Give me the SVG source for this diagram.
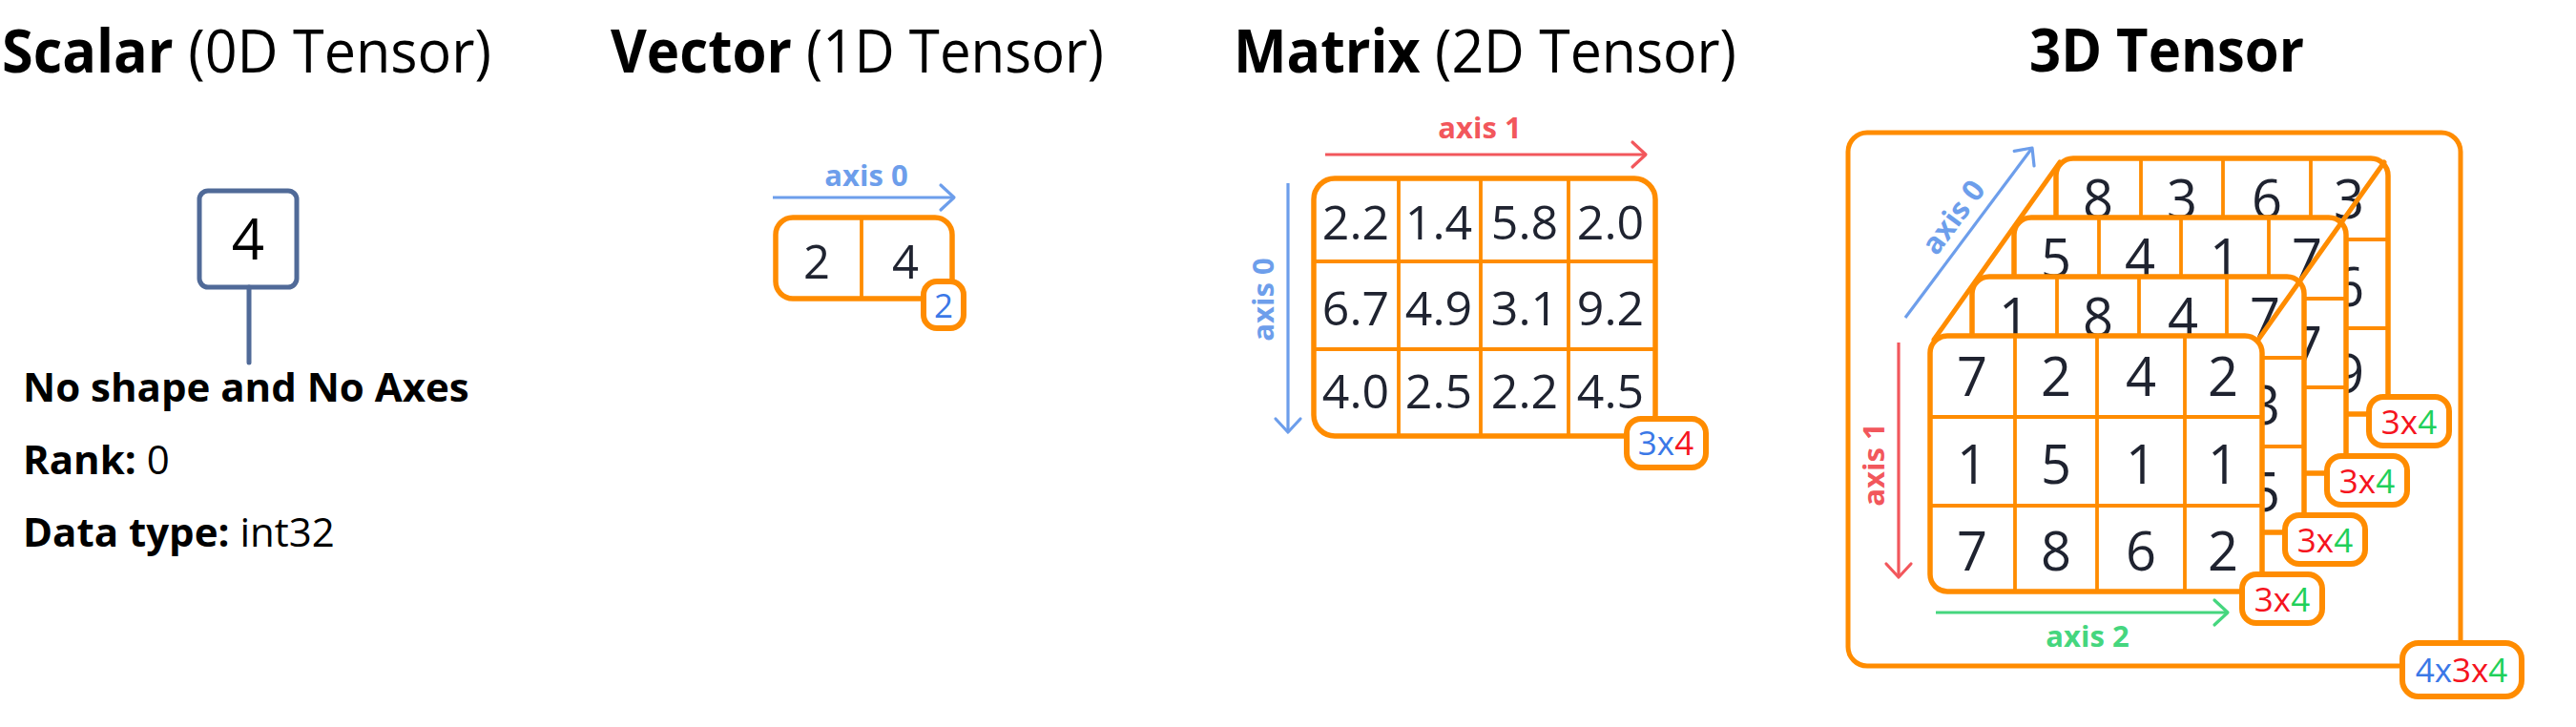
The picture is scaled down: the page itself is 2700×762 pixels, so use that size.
<svg xmlns="http://www.w3.org/2000/svg" width="2700" height="762" viewBox="0 0 2700 762">
<defs>
<style>
.t{font-family:"Open Sans","Noto Sans","DejaVu Sans",sans-serif;}
.title{font-size:62px;fill:#000;}
.b{font-weight:700;}
.r{font-weight:400;}
.info{font-size:42px;fill:#000;}
.dg{font-size:56px;fill:#1f2330;text-anchor:middle;}
.md{font-size:50px;fill:#1f2330;text-anchor:middle;}
.vd{font-size:49px;fill:#1f2330;text-anchor:middle;}
.ax{font-size:31px;font-weight:700;text-anchor:middle;}
.lbl{font-size:35px;text-anchor:middle;}
.box{fill:#fff;stroke:#ff8c00;stroke-width:5.5;}
.div{stroke:#ff8c00;stroke-width:3.8;fill:none;}
.lb{fill:#fff;stroke:#ff8c00;stroke-width:6;}
.cblue{fill:#3b78e7;}
.cred{fill:#f5141e;}
.cgreen{fill:#1fd05a;}
</style>
<marker id="ahB" viewBox="-17 -16 21 32" refX="0" refY="0" markerWidth="21" markerHeight="32" markerUnits="userSpaceOnUse" orient="auto"><path d="M-14,-13 L0,0 L-14,13" fill="none" stroke="#6d9eeb" stroke-width="3.2" stroke-linecap="round" stroke-linejoin="round"/></marker>
<marker id="ahR" viewBox="-17 -16 21 32" refX="0" refY="0" markerWidth="21" markerHeight="32" markerUnits="userSpaceOnUse" orient="auto"><path d="M-14,-13 L0,0 L-14,13" fill="none" stroke="#f2575c" stroke-width="3.2" stroke-linecap="round" stroke-linejoin="round"/></marker>
<marker id="ahG" viewBox="-17 -16 21 32" refX="0" refY="0" markerWidth="21" markerHeight="32" markerUnits="userSpaceOnUse" orient="auto"><path d="M-14,-13 L0,0 L-14,13" fill="none" stroke="#45d67e" stroke-width="3.2" stroke-linecap="round" stroke-linejoin="round"/></marker>
</defs>
<rect width="2700" height="762" fill="#fff"/>

<!-- Titles -->
<g id="titles" class="t">
<text class="title" x="2" y="76" textLength="513" lengthAdjust="spacingAndGlyphs"><tspan class="b">Scalar</tspan><tspan class="r"> (0D Tensor)</tspan></text>
<text class="title" x="640" y="76" textLength="517" lengthAdjust="spacingAndGlyphs"><tspan class="b">Vector</tspan><tspan class="r"> (1D Tensor)</tspan></text>
<text class="title" x="1293" y="76" textLength="527" lengthAdjust="spacingAndGlyphs"><tspan class="b">Matrix</tspan><tspan class="r"> (2D Tensor)</tspan></text>
<text class="title b" x="2127" y="75" textLength="288" lengthAdjust="spacingAndGlyphs">3D Tensor</text>
</g>

<!-- Scalar -->
<g id="scalar" class="t">
<rect x="209" y="200" width="102" height="101" rx="9" fill="#fff" stroke="#506a98" stroke-width="5"/>
<text x="260" y="272" font-size="60" text-anchor="middle" fill="#000">4</text>
</g>
<g id="scalar-info" class="t">
<text class="info b" x="24" y="421">No shape and No Axes</text>
<text class="info" x="24" y="497"><tspan class="b">Rank:</tspan><tspan class="r"> 0</tspan></text>
<text class="info" x="24" y="573"><tspan class="b">Data type:</tspan><tspan class="r"> int32</tspan></text>
</g>

<!-- Vector -->
<g id="vector" class="t">
<rect class="box" x="813" y="228" width="185" height="85" rx="18"/>
<line class="div" x1="903" y1="228" x2="903" y2="313"/>
<text class="vd" x="856" y="292">2</text>
<text class="vd" x="949" y="292">4</text>
<rect class="lb" x="968" y="295" width="42" height="49" rx="14"/>
<text class="lbl cblue" x="989" y="333" font-size="34">2</text>
</g>

<!-- Matrix -->
<g id="matrix" class="t">
<rect class="box" x="1377" y="187" width="358" height="270" rx="22"/>
<path class="div" d="M1466,187V457M1552,187V457M1644,187V457M1377,274H1735M1377,366H1735"/>
<text class="md" x="1421" y="251">2.2</text><text class="md" x="1508" y="251">1.4</text><text class="md" x="1598" y="251">5.8</text><text class="md" x="1688" y="251">2.0</text>
<text class="md" x="1421" y="341">6.7</text><text class="md" x="1508" y="341">4.9</text><text class="md" x="1598" y="341">3.1</text><text class="md" x="1688" y="341">9.2</text>
<text class="md" x="1421" y="428">4.0</text><text class="md" x="1508" y="428">2.5</text><text class="md" x="1598" y="428">2.2</text><text class="md" x="1688" y="428">4.5</text>
<rect class="lb" x="1705" y="439" width="83" height="51" rx="15"/>
<text class="lbl" x="1746" y="477"><tspan class="cblue">3x</tspan><tspan class="cred">4</tspan></text>
</g>

<!-- 3D tensor outer box -->
<g id="tensor3d-outer">
<rect x="1937" y="139" width="642" height="559" rx="20" fill="none" stroke="#ff8c00" stroke-width="5"/>
</g>

<!-- Layer 4 (back) -->
<g id="layer4" class="t">
<rect class="box" x="2155" y="166" width="348" height="268" rx="18"/>
<path class="div" d="M2244,166V434M2330,166V434M2422,166V434M2155,251H2503M2155,344H2503"/>
<text class="dg" x="2199" y="229">8</text><text class="dg" x="2287" y="229">3</text><text class="dg" x="2376" y="229">6</text><text class="dg" x="2462" y="229">3</text>
<text class="dg" x="2462" y="321">6</text>
<text class="dg" x="2462" y="412">9</text>
<rect class="lb" x="2483" y="416" width="84" height="51" rx="15"/>
<text class="lbl" x="2525" y="455"><tspan class="cred">3x</tspan><tspan class="cgreen">4</tspan></text>
</g>

<!-- Layer 3 -->
<g id="layer3" class="t">
<rect class="box" x="2111" y="228" width="348" height="268" rx="18"/>
<path class="div" d="M2200,228V496M2286,228V496M2378,228V496M2111,313H2459M2111,406H2459"/>
<text class="dg" x="2155" y="291">5</text><text class="dg" x="2243" y="291">4</text><text class="dg" x="2332" y="291">1</text><text class="dg" x="2418" y="291">7</text>
<text class="dg" x="2418" y="383">7</text>
<rect class="lb" x="2439" y="478" width="84" height="51" rx="15"/>
<text class="lbl" x="2481" y="517"><tspan class="cred">3x</tspan><tspan class="cgreen">4</tspan></text>
</g>

<!-- Layer 2 -->
<g id="layer2" class="t">
<rect class="box" x="2067" y="290" width="348" height="268" rx="18"/>
<path class="div" d="M2156,290V558M2242,290V558M2334,290V558M2067,375H2415M2067,468H2415"/>
<text class="dg" x="2111" y="353">1</text><text class="dg" x="2199" y="353">8</text><text class="dg" x="2288" y="353">4</text><text class="dg" x="2374" y="353">7</text>
<text class="dg" x="2374" y="445">3</text>
<text class="dg" x="2374" y="536">5</text>
<rect class="lb" x="2395" y="540" width="84" height="51" rx="15"/>
<text class="lbl" x="2437" y="579"><tspan class="cred">3x</tspan><tspan class="cgreen">4</tspan></text>
</g>

<!-- Layer 1 (front) -->
<g id="layer1" class="t">
<rect class="box" x="2023" y="352" width="348" height="268" rx="18"/>
<path class="div" d="M2112,352V620M2198,352V620M2290,352V620M2023,437H2371M2023,530H2371"/>
<text class="dg" x="2067" y="415">7</text><text class="dg" x="2155" y="415">2</text><text class="dg" x="2244" y="415">4</text><text class="dg" x="2330" y="415">2</text>
<text class="dg" x="2067" y="507">1</text><text class="dg" x="2155" y="507">5</text><text class="dg" x="2244" y="507">1</text><text class="dg" x="2330" y="507">1</text>
<text class="dg" x="2067" y="598">7</text><text class="dg" x="2155" y="598">8</text><text class="dg" x="2244" y="598">6</text><text class="dg" x="2330" y="598">2</text>
<rect class="lb" x="2350" y="602" width="84" height="51" rx="15"/>
<text class="lbl" x="2392" y="641"><tspan class="cred">3x</tspan><tspan class="cgreen">4</tspan></text>
</g>

<!-- depth edges -->
<g id="depth-edges">
<line x1="2027" y1="356" x2="2159" y2="170" stroke="#ff8c00" stroke-width="5" stroke-linecap="round"/>
<line x1="2367" y1="356" x2="2499" y2="170" stroke="#ff8c00" stroke-width="5" stroke-linecap="round"/>
</g>

<!-- outer label -->
<g id="tensor3d-label" class="t">
<rect class="lb" x="2518" y="674" width="125" height="56" rx="17"/>
<text class="lbl" x="2580" y="715"><tspan class="cblue">4x</tspan><tspan class="cred">3x</tspan><tspan class="cgreen">4</tspan></text>
</g>

<!-- Connectors / axes -->
<g id="connectors" fill="none" stroke-width="3.2">
<line x1="261" y1="301" x2="261" y2="380" stroke="#506a98" stroke-width="5" stroke-linecap="round"/>
<line x1="810" y1="207" x2="1000" y2="207" stroke="#6d9eeb" marker-end="url(#ahB)"/>
<line x1="1389" y1="162" x2="1725" y2="162" stroke="#f2575c" marker-end="url(#ahR)"/>
<line x1="1350" y1="192" x2="1350" y2="453" stroke="#6d9eeb" marker-end="url(#ahB)"/>
<line x1="1997" y1="333" x2="2130" y2="155" stroke="#6d9eeb" marker-end="url(#ahB)"/>
<line x1="1990" y1="359" x2="1990" y2="605" stroke="#f2575c" marker-end="url(#ahR)"/>
<line x1="2029" y1="642" x2="2335" y2="642" stroke="#45d67e" marker-end="url(#ahG)"/>
</g>
<g id="axis-labels" class="t">
<text class="ax" x="908" y="195" fill="#6d9eeb">axis 0</text>
<text class="ax" x="1551" y="145" fill="#f2575c">axis 1</text>
<text class="ax" transform="translate(1335,314) rotate(-90)" fill="#6d9eeb">axis 0</text>
<text class="ax" transform="translate(2056,234) rotate(-53.2)" fill="#6d9eeb">axis 0</text>
<text class="ax" transform="translate(1975,487) rotate(-90)" fill="#f2575c">axis 1</text>
<text class="ax" x="2188" y="678" fill="#45d67e">axis 2</text>
</g>
</svg>
